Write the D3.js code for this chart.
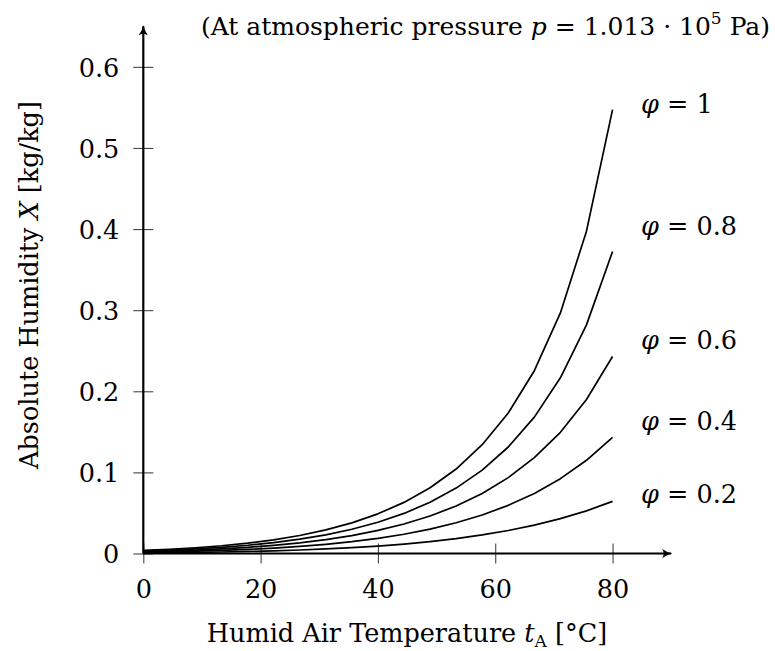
<!DOCTYPE html>
<html><head><meta charset="utf-8">
<script src="https://cdn.jsdelivr.net/npm/d3@7"></script>
<style>
html,body{margin:0;padding:0;background:#fff;}
svg text{font-family:"DejaVu Serif",serif;fill:#000;}
</style></head>
<body><svg id="c" width="775" height="651"></svg>
<script>
// Temperature samples [°C]
const temps = [0, 4.444, 8.889, 13.333, 17.778, 22.222, 26.667, 31.111, 35.556, 40,
  44.444, 48.889, 53.333, 57.778, 62.222, 66.667, 71.111, 75.556, 80];
// Absolute humidity X [kg/kg] per relative humidity
const phiValues = [1, 0.8, 0.6, 0.4, 0.2];
const X_phi10 = [0.00377, 0.00519, 0.00707, 0.00953, 0.01274, 0.01688, 0.02222, 0.02905, 0.03778, 0.04890,
  0.06301, 0.08103, 0.10416, 0.13410, 0.17327, 0.22540, 0.29664, 0.39740, 0.54720];
const X_phi08 = [0.00302, 0.00414, 0.00564, 0.00760, 0.01015, 0.01343, 0.01765, 0.02303, 0.02986, 0.03852,
  0.04941, 0.06318, 0.08063, 0.10284, 0.13130, 0.16814, 0.21665, 0.28191, 0.37227];
const X_phi06 = [0.00226, 0.00310, 0.00422, 0.00568, 0.00758, 0.01002, 0.01314, 0.01711, 0.02213, 0.02845,
  0.03633, 0.04621, 0.05857, 0.07407, 0.09354, 0.11812, 0.14947, 0.18991, 0.24286];
const X_phi04 = [0.00150, 0.00207, 0.00281, 0.00378, 0.00503, 0.00665, 0.00870, 0.01130, 0.01458, 0.01868,
  0.02376, 0.03006, 0.03786, 0.04750, 0.05938, 0.07406, 0.09225, 0.11491, 0.14326];
const X_phi02 = [0.00075, 0.00103, 0.00140, 0.00188, 0.00251, 0.00331, 0.00432, 0.00560, 0.00721, 0.00920,
  0.01166, 0.01468, 0.01837, 0.02287, 0.02834, 0.03495, 0.04294, 0.05260, 0.06423];
const seriesValues = [X_phi10, X_phi08, X_phi06, X_phi04, X_phi02];
const seriesLabels = ["1", "0.8", "0.6", "0.4", "0.2"];
const xTicks = [0, 20, 40, 60, 80];
const yTicks = [0, 0.1, 0.2, 0.3, 0.4, 0.5, 0.6];
const yTickLabels = ["0", "0.1", "0.2", "0.3", "0.4", "0.5", "0.6"];

const svg = d3.select("#c");
const x = d3.scaleLinear().domain([0, 90]).range([143.3, 671.2]);
const y = d3.scaleLinear().domain([0, 0.65]).range([553.5, 26.3]);

const defs = svg.append("defs");
defs.append("marker").attr("id","arr").attr("viewBox","-10 -6 12 12")
  .attr("refX",0).attr("refY",0).attr("markerWidth",12).attr("markerHeight",12)
  .attr("markerUnits","userSpaceOnUse").attr("orient","auto")
  .append("path").attr("d","M-9,-4.5 Q-4,-1 1,0 Q-4,1 -9,4.5 Q-6,0 -9,-4.5Z").attr("fill","#000");

const fs = 25.5;
const ff = "'DejaVu Serif',serif";
const gx = svg.append("g").attr("transform",`translate(0,${y(0)})`)
  .call(d3.axisBottom(x).tickValues(xTicks).tickSize(10).tickFormat(d3.format("d")));
gx.select(".domain").remove();
gx.selectAll(".tick line").attr("y1",-10).attr("y2",10).attr("stroke","#444").attr("stroke-width",1.1);
gx.selectAll(".tick text").attr("y",44.5).attr("dy",0).attr("font-size",fs).style("font-family",ff);

const gy = svg.append("g").attr("transform",`translate(${x(0)},0)`)
  .call(d3.axisLeft(y).tickValues(yTicks).tickSize(10).tickFormat((d,i)=>yTickLabels[i]));
gy.select(".domain").remove();
gy.selectAll(".tick line").attr("x1",-10).attr("x2",10).attr("stroke","#444").attr("stroke-width",1.1);
gy.selectAll(".tick text").attr("x",-24).attr("dy","0.36em").attr("font-size",fs).style("font-family",ff);

svg.append("line").attr("x1",x(0)).attr("x2",x(90)).attr("y1",y(0)).attr("y2",y(0))
  .attr("stroke","#000").attr("stroke-width",2.2).attr("marker-end","url(#arr)");
svg.append("line").attr("x1",x(0)).attr("x2",x(0)).attr("y1",y(0)).attr("y2",y(0.65))
  .attr("stroke","#000").attr("stroke-width",2.2).attr("marker-end","url(#arr)");

const line = d3.line().x((d,i)=>x(temps[i])).y(d=>y(d));
svg.append("g").selectAll("path").data(seriesValues).join("path")
  .attr("d", line).attr("fill","none").attr("stroke","#000").attr("stroke-width",1.7)
  .attr("stroke-linejoin","round");

const labelY = [113, 235, 349, 430, 503];
const lab = svg.append("g").selectAll("text").data(seriesLabels).join("text")
  .attr("x", 641).attr("y",(d,i)=>labelY[i]).attr("font-size",fs);
lab.append("tspan").attr("font-style","italic").text("\u03C6");
lab.append("tspan").text(d=>" = " + d);

const t = svg.append("text").attr("x",770).attr("y",35).attr("text-anchor","end").attr("font-size",25);
t.append("tspan").text("(At atmospheric pressure ");
t.append("tspan").attr("font-style","italic").text("p");
t.append("tspan").text(" = 1.013 \u00B7 10");
t.append("tspan").attr("dy",-11).attr("font-size",17).text("5");
t.append("tspan").attr("dy",11).text(" Pa)");

const xl = svg.append("text").attr("x",407).attr("y",642).attr("text-anchor","middle").attr("font-size",fs);
xl.append("tspan").text("Humid Air Temperature ");
xl.append("tspan").attr("font-style","italic").text("t");
xl.append("tspan").attr("dy",5).attr("font-size",17).text("A");
xl.append("tspan").attr("dy",-5).text(" [\u00B0C]");

const yl = svg.append("text").attr("transform","translate(38,285) rotate(-90)")
  .attr("text-anchor","middle").attr("font-size",fs);
yl.append("tspan").text("Absolute Humidity ");
yl.append("tspan").attr("font-style","italic").text("X");
yl.append("tspan").text(" [kg/kg]");
</script></body></html>
